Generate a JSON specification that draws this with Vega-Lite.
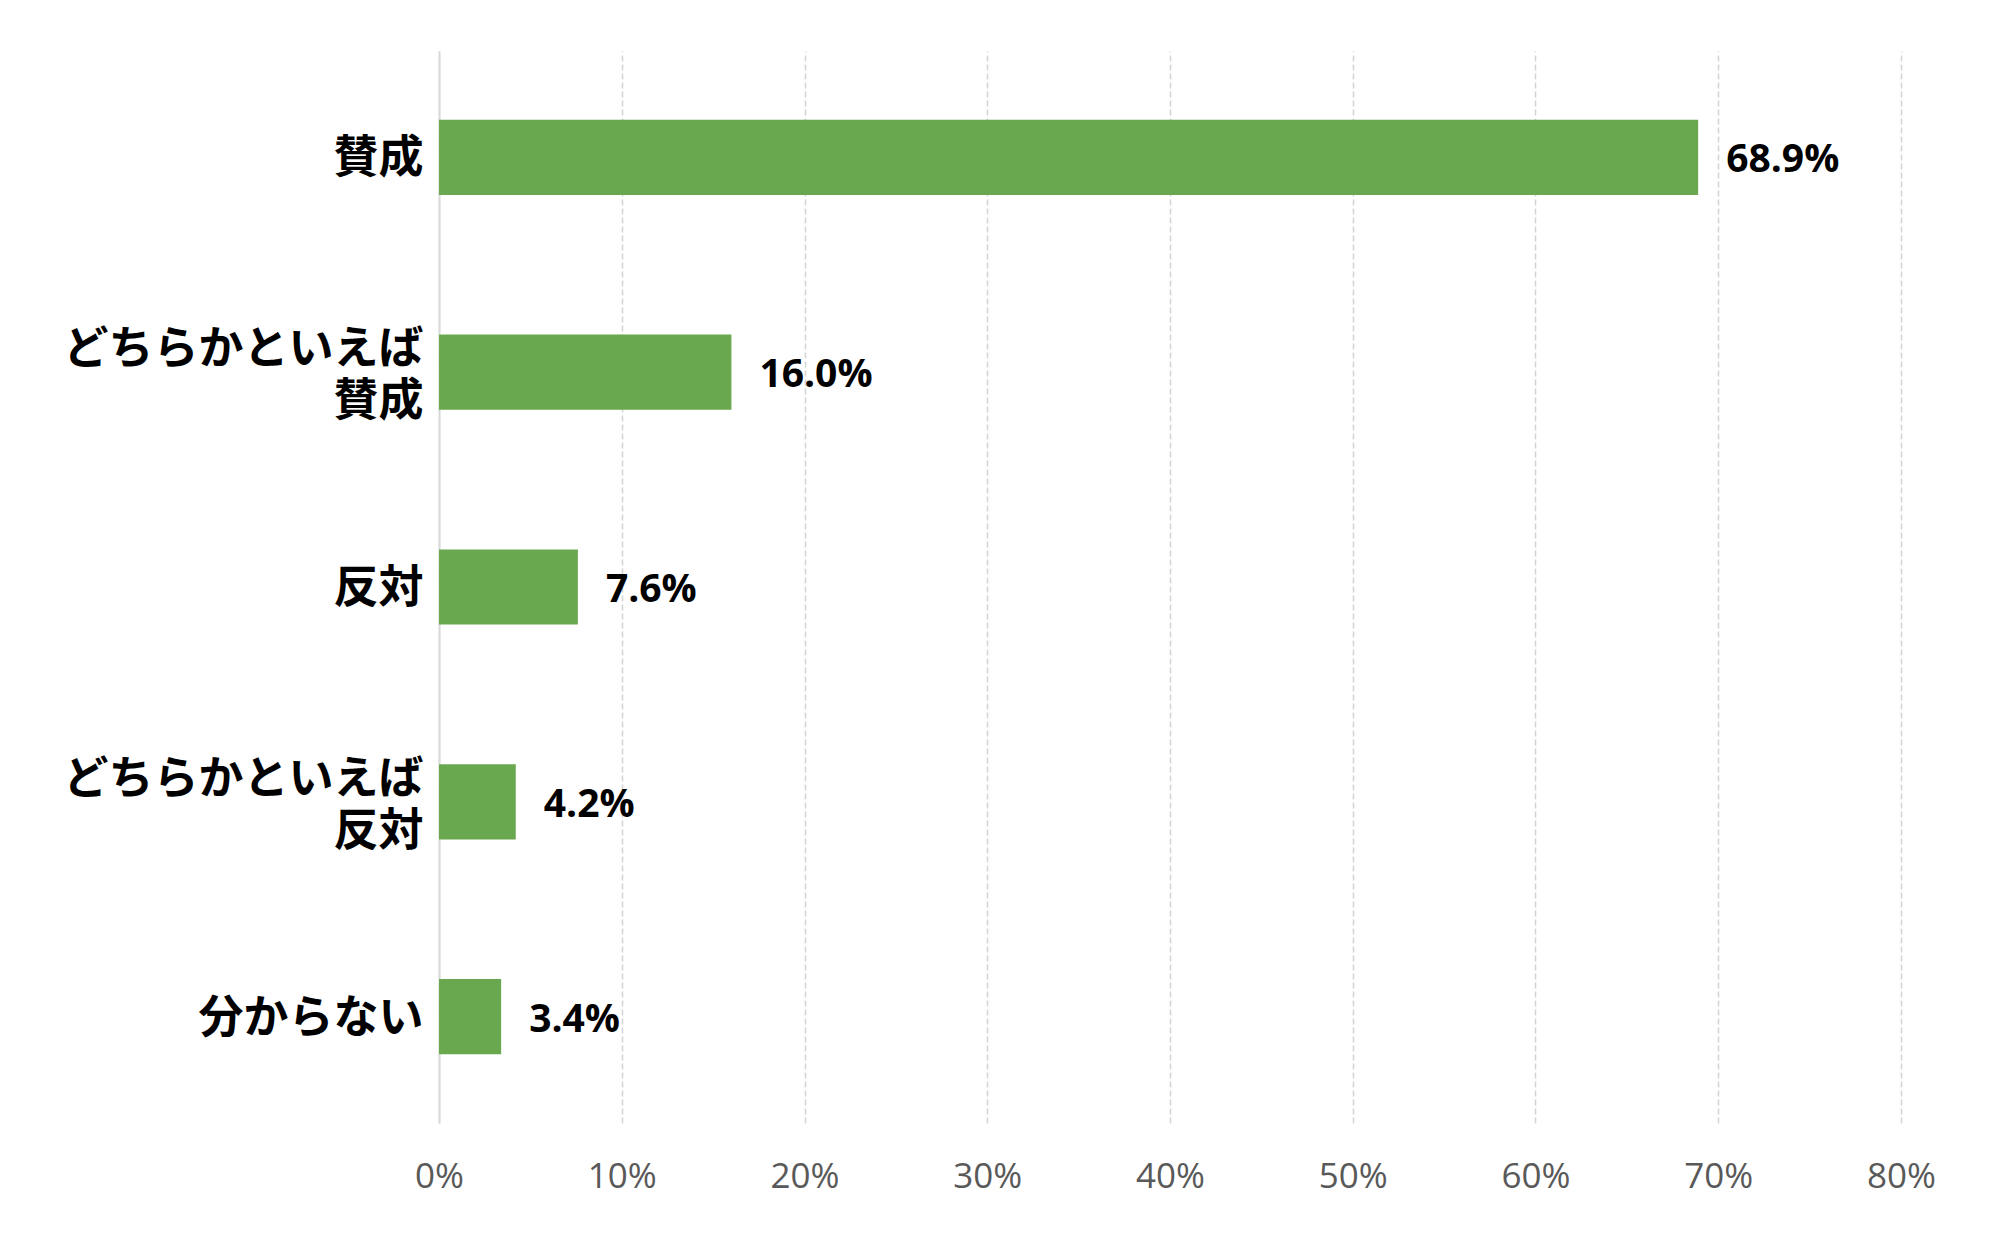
{
  "$schema": "https://vega.github.io/schema/vega-lite/v6.json",
  "autosize": {"type": "none"},
  "padding": {"left": 439, "top": 51, "right": 97, "bottom": 114},
  "width": 1462,
  "height": 1072,
  "background": "white",
  "data": {
    "values": [
      {"category": "賛成", "value": 0.689},
      {"category": "どちらかといえば 賛成", "value": 0.160},
      {"category": "反対", "value": 0.076},
      {"category": "どちらかといえば 反対", "value": 0.042},
      {"category": "分からない", "value": 0.034}
    ]
  },
  "encoding": {
    "y": {
      "field": "category",
      "type": "nominal",
      "sort": null,
      "scale": {"paddingInner": 0.65, "paddingOuter": 0.32},
      "axis": {
        "title": null,
        "ticks": false,
        "domain": true,
        "domainColor": "#d9d9d9",
        "domainWidth": 2,
        "labelPadding": 16,
        "labelFont": "Noto Sans CJK JP",
        "labelFontWeight": "bold",
        "labelFontSize": 45,
        "labelColor": "#000000",
        "labelLineHeight": 52,
        "labelLimit": 500,
        "labelOffset": {"condition": {"test": "indexof(datum.value, ' ') >= 0", "value": -22}, "value": 2},
        "labelExpr": "split(datum.label, ' ')"
      }
    },
    "x": {
      "field": "value",
      "type": "quantitative",
      "scale": {"domain": [0, 0.8], "nice": false},
      "axis": {
        "title": null,
        "values": [0, 0.1, 0.2, 0.3, 0.4, 0.5, 0.6, 0.7, 0.8],
        "format": ".0%",
        "domain": false,
        "ticks": false,
        "grid": true,
        "gridColor": "#d4d4d4",
        "gridDash": [6, 3],
        "gridWidth": 1.5,
        "labelFont": "Open Sans",
        "labelFontSize": 35,
        "labelColor": "#595959",
        "labelBaseline": "middle",
        "labelFlush": false,
        "labelPadding": 53
      }
    }
  },
  "layer": [
    {
      "mark": {"type": "bar", "color": "#6aa84f"}
    },
    {
      "mark": {
        "type": "text",
        "align": "left",
        "baseline": "middle",
        "dx": 28,
        "dy": 3,
        "font": "Open Sans",
        "fontWeight": "bold",
        "fontSize": 39,
        "color": "#000000"
      },
      "encoding": {
        "text": {"field": "value", "type": "quantitative", "format": ".1%"}
      }
    }
  ],
  "config": {"view": {"stroke": null}}
}
